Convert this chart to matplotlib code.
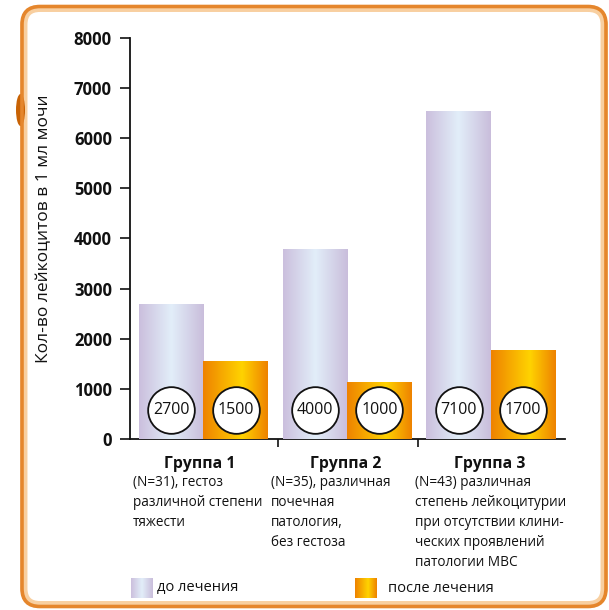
import numpy as np
import matplotlib
matplotlib.use("Agg")
import matplotlib.pyplot as plt
from matplotlib.patches import FancyBboxPatch, Ellipse
from matplotlib.colors import LinearSegmentedColormap

plt.rcParams['font.family'] = ['Open Sans', 'DejaVu Sans']

# ---- data ----
groups = ["Группа 1", "Группа 2", "Группа 3"]
descriptions = [
    "(N=31), гестоз\nразличной степени\nтяжести",
    "(N=35), различная\nпочечная\nпатология,\nбез гестоза",
    "(N=43) различная\nстепень лейкоцитурии\nпри отсутствии клини-\nческих проявлений\nпатологии МВС",
]
before_heights = [2690, 3790, 6550]
after_heights = [1560, 1140, 1775]
before_labels = ["2700", "4000", "7100"]
after_labels = ["1500", "1000", "1700"]
series_names = ["до лечения", "после лечения"]
y_ticks = [0, 1000, 2000, 3000, 4000, 5000, 6000, 7000, 8000]

W, H = 609, 610
fig = plt.figure(figsize=(W / 100, H / 100), dpi=100)
fig.patch.set_facecolor("white")

# background overlay axes in pixel coordinates (y downward)
bg = fig.add_axes([0, 0, 1, 1])
bg.set_xlim(0, W)
bg.set_ylim(H, 0)
bg.axis("off")

# frame
bg.add_patch(FancyBboxPatch((24, 8.5), 580, 596, boxstyle="round,pad=0,rounding_size=16",
                            facecolor="white", edgecolor="#F8CFA0", lw=5, zorder=0))
bg.add_patch(FancyBboxPatch((22, 6.5), 584, 600, boxstyle="round,pad=0,rounding_size=18",
                            facecolor="none", edgecolor="#E5862C", lw=2.6, zorder=1))
# left tab
bg.add_patch(Ellipse((20.5, 110), 9, 32, facecolor="#C86204", edgecolor="none", zorder=0))

cmap_before = LinearSegmentedColormap.from_list(
    "b", [(0, "#CBBFDD"), (0.5, "#E2EEF9"), (1, "#C9BDDB")])
cmap_after = LinearSegmentedColormap.from_list(
    "a", [(0, "#EE8200"), (0.6, "#FFD300"), (1, "#EE8200")])
grad = np.linspace(0, 1, 256).reshape(1, -1)

# ---- main axes ----
ax = fig.add_axes([130 / W, (H - 439) / H, (565 - 130) / W, 401 / H])
ax.set_facecolor("none")
x = np.arange(len(groups))
w = 0.449
b1 = ax.bar(x - w / 2, before_heights, width=w, color="#D8D5EC", zorder=2)
b2 = ax.bar(x + w / 2, after_heights, width=w, color="#F7A800", zorder=2)
for bars, cm in ((b1, cmap_before), (b2, cmap_after)):
    for r in bars:
        im = ax.imshow(grad, cmap=cm, aspect="auto", zorder=3,
                       extent=[r.get_x(), r.get_x() + r.get_width(), 0, r.get_height()])
        im.set_clip_path(r)

label_y = 579
for xs, labs in ((x - w / 2, before_labels), (x + w / 2, after_labels)):
    ax.scatter(xs, [label_y] * len(xs), s=1130, facecolor="white",
               edgecolor="#111111", lw=1.3, zorder=5)
    for xi, lab in zip(xs, labs):
        ax.text(xi, label_y, lab, ha="center", va="center", fontsize=11.5,
                color="#111111", zorder=6)

ax.set_xlim(-0.511, 2.515)
ax.set_ylim(0, 8000)
ax.set_yticks(y_ticks)
ax.set_yticklabels([str(t) for t in y_ticks], fontsize=12, fontweight="bold")
ax.set_xticks([0.52, 1.49])
ax.set_xticklabels([])
ax.tick_params(axis="y", length=7, width=1.2, pad=6, colors="#111111")
ax.tick_params(axis="x", length=6, width=1.2, direction="out", colors="#111111")
for s in ("top", "right"):
    ax.spines[s].set_visible(False)
for s in ("left", "bottom"):
    ax.spines[s].set_linewidth(1.3)
    ax.spines[s].set_color("#111111")

ax.set_ylabel("Кол-во лейкоцитов в 1 мл мочи", fontsize=12.5,
              color="#111111")
ax.yaxis.set_label_coords((52 - 130) / (565 - 130), 0.525)

# group titles and descriptions
desc_x = [133, 271, 415]
centers_px = [200, 346, 490]
for g, d, cx, dx in zip(groups, descriptions, centers_px, desc_x):
    bg.text(cx, 464, g, ha="center", va="center", fontsize=11.3,
            fontweight="bold", color="#111111")
    bg.text(dx, 475, d, ha="left", va="top", fontsize=9.8, color="#111111",
            linespacing=1.45)

# legend
leg = [(131, cmap_before, series_names[0], 157), (355, cmap_after, series_names[1], 388)]
for lx, cm, name, tx in leg:
    bg.imshow(grad, cmap=cm, aspect="auto", extent=[lx, lx + 22, 598, 578], zorder=3)
    bg.text(tx, 588, name, ha="left", va="center", fontsize=10.5, color="#111111")
bg.set_xlim(0, W)
bg.set_ylim(H, 0)

fig.savefig("out.png", dpi=100, facecolor="white")
